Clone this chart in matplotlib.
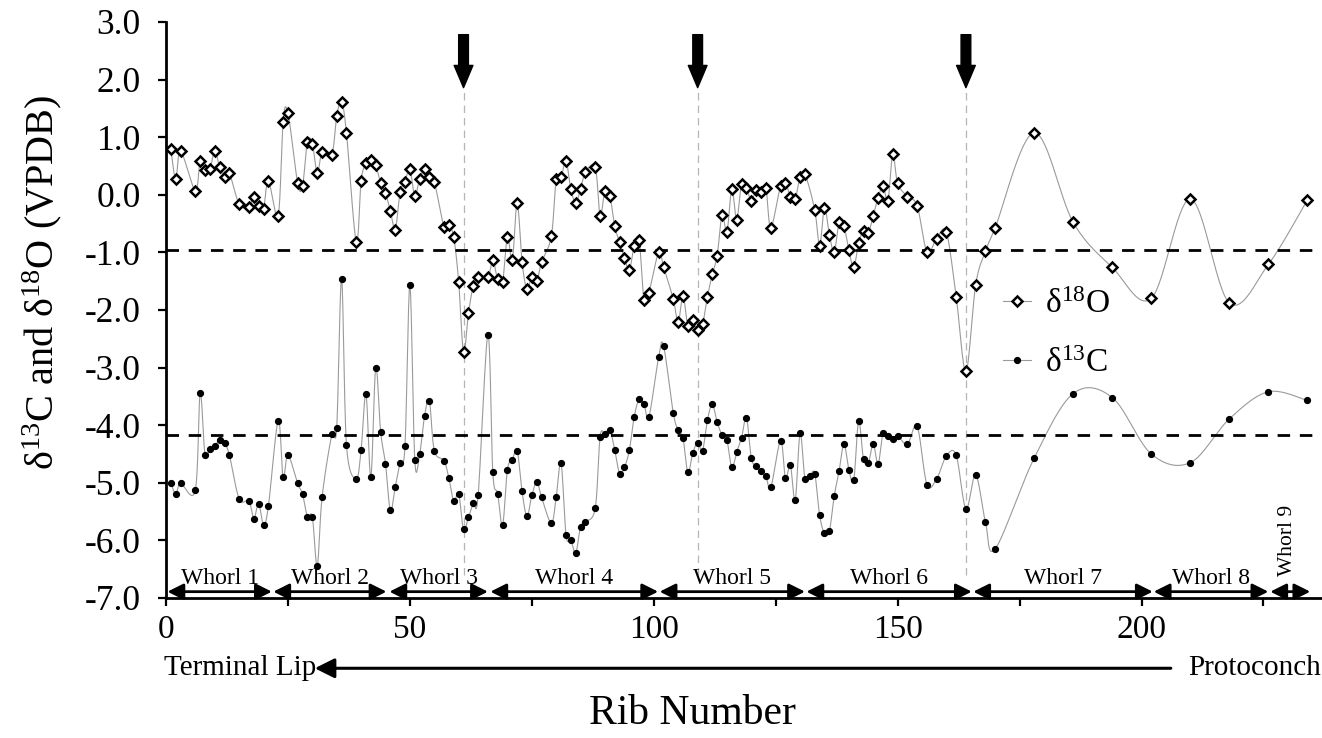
import numpy as np
import matplotlib
matplotlib.use("Agg")
import matplotlib.pyplot as plt
from matplotlib.patches import FancyArrowPatch
from matplotlib.lines import Line2D

plt.rcParams['font.family'] = ['Liberation Serif', 'DejaVu Serif']
plt.rcParams['mathtext.fontset'] = 'custom'
plt.rcParams['mathtext.rm'] = 'Liberation Serif'
plt.rcParams['axes.unicode_minus'] = False

# rib numbers and d18O values
ribs_o = [1, 2, 3, 6, 7, 8, 9, 10, 11, 12,
          13, 15, 17, 18, 19, 20, 21, 23, 24, 25,
          27, 28, 29, 30, 31, 32, 34, 35, 36, 37,
          39, 40, 41, 42, 43, 44, 45, 46, 47, 48,
          49, 50, 51, 52, 53, 54, 55, 57, 58, 59,
          60, 61, 62, 63, 64, 66, 67, 68, 69, 70,
          71, 72, 73, 74, 75, 76, 77, 79, 80, 81,
          82, 83, 84, 85, 86, 88, 89, 90, 91, 92,
          93, 94, 95, 96, 97, 98, 99, 101, 102, 104,
          105, 106, 107, 108, 109, 110, 111, 112, 113, 114,
          115, 116, 117, 118, 119, 120, 121, 122, 123, 124,
          126, 127, 128, 129, 130, 131, 133, 134, 135, 136,
          137, 138, 139, 140, 141, 142, 143, 144, 145, 146,
          147, 148, 149, 150, 152, 154, 156, 158, 160, 162,
          164, 166, 168, 170, 178, 186, 194, 202, 210, 218,
          226, 234]
d18O = [0.79, 0.27, 0.76, 0.07, 0.59, 0.43, 0.44, 0.76, 0.48, 0.31,
        0.37, -0.16, -0.21, -0.03, -0.19, -0.24, 0.24, -0.36, 1.27, 1.42,
        0.20, 0.16, 0.92, 0.89, 0.37, 0.74, 0.69, 1.37, 1.61, 1.07,
        -0.82, 0.24, 0.55, 0.60, 0.51, 0.21, 0.03, -0.28, -0.61, 0.05,
        0.23, 0.44, -0.02, 0.28, 0.45, 0.31, 0.23, -0.56, -0.53, -0.74,
        -1.51, -2.73, -2.06, -1.58, -1.43, -1.43, -1.14, -1.47, -1.52, -0.73,
        -1.14, -0.14, -1.17, -1.64, -1.42, -1.50, -1.17, -0.72, 0.27, 0.31,
        0.59, 0.10, -0.14, 0.10, 0.39, 0.48, -0.36, 0.07, -0.02, -0.55,
        -0.82, -1.10, -1.30, -0.89, -0.78, -1.83, -1.70, -1.00, -1.25, -1.81,
        -2.21, -1.76, -2.28, -2.17, -2.34, -2.25, -1.77, -1.38, -1.06, -0.35,
        -0.65, 0.10, -0.43, 0.19, 0.11, -0.10, 0.08, 0.05, 0.11, -0.57,
        0.16, 0.21, -0.03, -0.07, 0.31, 0.36, -0.26, -0.89, -0.23, -0.69,
        -0.99, -0.48, -0.55, -0.96, -1.26, -0.84, -0.62, -0.66, -0.36, -0.05,
        0.16, -0.11, 0.71, 0.20, -0.03, -0.19, -0.99, -0.76, -0.65, -1.77,
        -3.06, -1.56, -0.98, -0.57, 1.08, -0.48, -1.26, -1.80, -0.07, -1.88,
        -1.21, -0.09]

# rib numbers and d13C values
ribs_c = [1, 2, 3, 6, 7, 8, 9, 10, 11, 12,
          13, 15, 17, 18, 19, 20, 21, 23, 24, 25,
          27, 28, 29, 30, 31, 32, 34, 35, 36, 37,
          39, 40, 41, 42, 43, 44, 45, 46, 47, 48,
          49, 50, 51, 52, 53, 54, 55, 57, 58, 59,
          60, 61, 62, 63, 64, 66, 67, 68, 69, 70,
          71, 72, 73, 74, 75, 76, 77, 79, 80, 81,
          82, 83, 84, 85, 86, 88, 89, 90, 91, 92,
          93, 94, 95, 96, 97, 98, 99, 101, 102, 104,
          105, 106, 107, 108, 109, 110, 111, 112, 113, 114,
          115, 116, 117, 118, 119, 120, 121, 122, 123, 124,
          126, 127, 128, 129, 130, 131, 132, 133, 134, 135,
          136, 137, 138, 139, 140, 141, 142, 143, 144, 145,
          146, 147, 148, 149, 150, 152, 154, 156, 158, 160,
          162, 164, 166, 168, 170, 178, 186, 194, 202, 210,
          218, 226, 234]
d13C = [-5.01, -5.19, -5.01, -5.13, -3.44, -4.52, -4.41, -4.36, -4.25, -4.31,
        -4.52, -5.28, -5.32, -5.62, -5.36, -5.73, -5.40, -3.92, -4.90, -4.52,
        -5.01, -5.20, -5.59, -5.59, -6.44, -5.25, -4.16, -4.04, -1.46, -4.34,
        -4.93, -4.43, -3.46, -4.90, -3.00, -4.11, -4.67, -5.48, -5.07, -4.65,
        -4.36, -1.57, -4.60, -4.50, -3.84, -3.58, -4.44, -4.62, -4.92, -5.32,
        -5.19, -5.81, -5.60, -5.35, -5.21, -2.43, -4.82, -5.19, -5.74, -4.77,
        -4.60, -4.44, -5.15, -5.58, -5.22, -4.98, -5.25, -5.70, -5.25, -4.66,
        -5.91, -5.99, -6.22, -5.76, -5.68, -5.44, -4.20, -4.15, -4.08, -4.43,
        -4.84, -4.73, -4.43, -3.85, -3.55, -3.63, -3.86, -2.82, -2.62, -3.79,
        -4.08, -4.23, -4.82, -4.48, -4.31, -4.44, -3.91, -3.64, -3.95, -4.17,
        -4.26, -4.73, -4.47, -4.22, -3.87, -4.57, -4.71, -4.80, -4.89, -5.08,
        -4.27, -4.92, -4.69, -5.30, -4.14, -4.93, -4.88, -4.84, -5.56, -5.88,
        -5.84, -5.23, -4.79, -4.33, -4.77, -4.96, -3.93, -4.59, -4.65, -4.33,
        -4.67, -4.14, -4.19, -4.24, -4.19, -4.33, -4.02, -5.03, -4.93, -4.53,
        -4.52, -5.45, -4.86, -5.68, -6.15, -4.57, -3.45, -3.52, -4.50, -4.65,
        -3.89, -3.42, -3.57]

mean_o = -0.95
mean_c = -4.17
event_ribs = [61, 109, 164]
whorl_names = ['Whorl 1', 'Whorl 2', 'Whorl 3', 'Whorl 4', 'Whorl 5',
               'Whorl 6', 'Whorl 7', 'Whorl 8', 'Whorl 9']
whorl_start = [0.3, 22.0, 45.8, 66.5, 101.2, 131.3, 165.5, 202.5, 226.4]
whorl_end = [21.7, 45.2, 66.0, 100.9, 131.0, 165.2, 202.3, 226.0, 234.6]


def smooth(x, y, n=16):
    # excel style smoothed line (catmull-rom bezier through the points)
    p = np.column_stack([x, y]).astype(float)
    out = [p[0]]
    t = np.linspace(0, 1, n)[1:, None]
    for i in range(len(p) - 1):
        p0 = p[max(i - 1, 0)]
        p1 = p[i]
        p2 = p[i + 1]
        p3 = p[min(i + 2, len(p) - 1)]
        c1 = p1 + (p2 - p0) / 6.0
        c2 = p2 - (p3 - p1) / 6.0
        seg = ((1 - t) ** 3 * p1 + 3 * (1 - t) ** 2 * t * c1
               + 3 * (1 - t) * t ** 2 * c2 + t ** 3 * p2)
        out.extend(seg)
    out = np.array(out)
    return out[:, 0], out[:, 1]


fig = plt.figure(figsize=(13.22, 7.38), dpi=100)
ax = fig.add_axes([166 / 1322, 140 / 738, 1156 / 1322, 576 / 738])

line_col = '#9a9a9a'
sx, sy = smooth(ribs_o, d18O)
ax.plot(sx, sy, color=line_col, lw=0.8, zorder=2)
sx, sy = smooth(ribs_c, d13C)
ax.plot(sx, sy, color=line_col, lw=0.8, zorder=2)
ax.plot(ribs_o, d18O, ls='none', marker='D', ms=5.6, mfc='white',
        mec='black', mew=1.8, zorder=4)
ax.plot(ribs_c, d13C, ls='none', marker='o', ms=4.2, mfc='black',
        mec='black', zorder=4)

# mean lines
ax.axhline(mean_o, color='black', lw=2.0, ls=(0, (4.5, 3.5)), zorder=3)
ax.axhline(mean_c, color='black', lw=2.0, ls=(0, (4.5, 3.5)), zorder=3)

# event markers
ax.vlines(event_ribs, -6.6, 1.86, colors='#b5b5b5', lw=0.9,
          linestyles=(0, (6, 4)), zorder=1)
for r in event_ribs:
    ax.add_patch(FancyArrowPatch((r, 2.78), (r, 1.86),
                                 arrowstyle='simple,head_length=1.6,head_width=1.35,tail_width=0.7',
                                 mutation_scale=10, color='black', shrinkA=0, shrinkB=0,
                                 zorder=5))

# whorl arrows
for name, a, b in zip(whorl_names, whorl_start, whorl_end):
    ax.annotate('', xy=(b, -6.89), xytext=(a, -6.89),
                arrowprops=dict(arrowstyle='<|-|>', lw=2.0, color='black',
                                mutation_scale=24, shrinkA=0, shrinkB=0))
    if name == 'Whorl 9':
        ax.text((a + b) / 2 - 0.5, -6.0, name, rotation=90, ha='center',
                va='center', fontsize=15.5)
    else:
        ax.text((a + b) / 2, -6.76, name, ha='center', va='baseline',
                fontsize=17)

# terminal lip / protoconch arrow under the axis
ax.annotate('', xy=(30.5, -8.22), xytext=(206.0, -8.22),
            arrowprops=dict(arrowstyle='-|>', lw=2.2, color='black',
                            mutation_scale=30, shrinkA=0, shrinkB=0),
            annotation_clip=False)
ax.text(-0.5, -8.22, 'Terminal Lip', ha='left', va='center', fontsize=21,
        clip_on=False)
ax.text(236.8, -8.22, 'Protoconch', ha='right', va='center', fontsize=21,
        clip_on=False)

ax.set_xlim(0, 237)
ax.set_ylim(-7, 3)
ax.set_xticks(np.arange(0, 226, 25))
ax.set_xticklabels([str(v) if v % 50 == 0 else '' for v in range(0, 226, 25)])
ax.set_yticks(np.arange(-7, 3.1, 1))
ax.set_yticklabels(['%.1f' % v for v in np.arange(-7, 3.1, 1)])
ax.tick_params(direction='out', length=6, width=1.6, colors='black')
ax.tick_params(axis='y', pad=12, labelsize=25.5)
ax.tick_params(axis='x', pad=6, labelsize=24)
for s in ['top', 'right']:
    ax.spines[s].set_visible(False)
for s in ['left', 'bottom']:
    ax.spines[s].set_linewidth(2.0)

fig.text(42 / 1322, 1 - 282 / 738,
         r'$\mathregular{\delta^{13}}$C and $\mathregular{\delta^{18}}$O (VPDB)',
         rotation=90, ha='center', va='center', fontsize=29)
fig.text(692 / 1322, 1 - 714 / 738, 'Rib Number', ha='center', va='center',
         fontsize=30)

h_o = Line2D([], [], color=line_col, lw=0.8, marker='D', ms=5.6, mfc='white',
             mec='black', mew=1.8)
h_c = Line2D([], [], color=line_col, lw=0.8, marker='o', ms=4.2, mfc='black',
             mec='black')
ax.legend([h_o, h_c], [r'$\mathregular{\delta^{18}}$O', r'$\mathregular{\delta^{13}}$C'],
          loc='center left', bbox_to_anchor=(1003 / 1322, 1 - 334 / 738),
          bbox_transform=fig.transFigure, frameon=False, fontsize=24,
          handlelength=0.85, handletextpad=0.4, labelspacing=0.85,
          borderpad=0, borderaxespad=0)

fig.savefig('out.png', dpi=100)
